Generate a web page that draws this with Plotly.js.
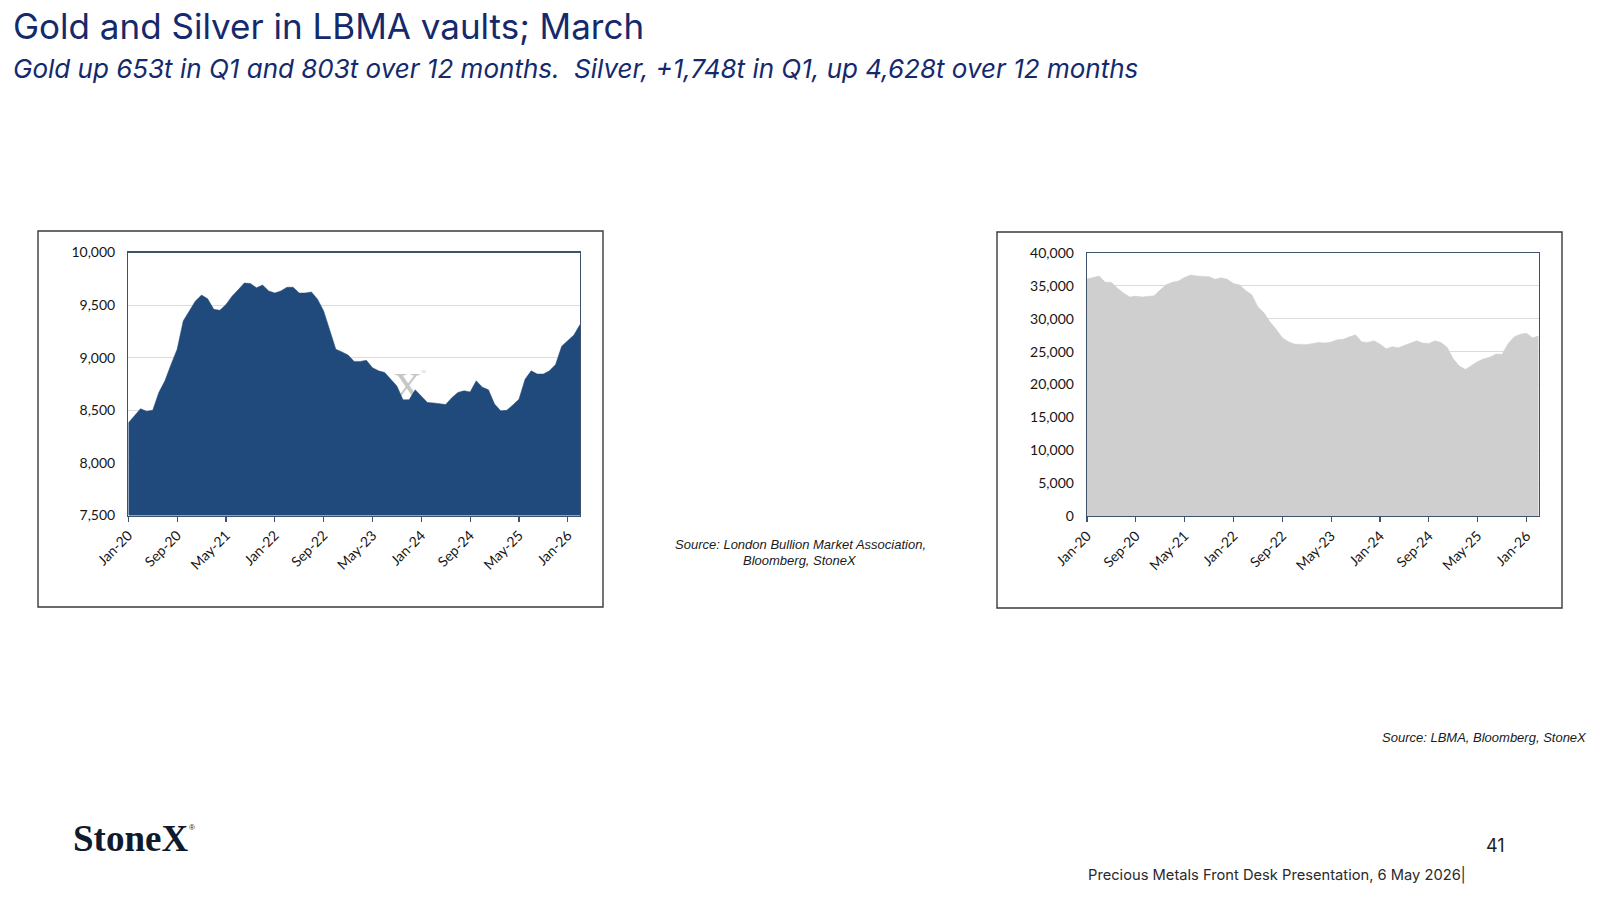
<!DOCTYPE html>
<html>
<head>
<meta charset="utf-8">
<script src="https://cdn.plot.ly/plotly-3.0.1.min.js"></script>
<style>
  html, body { margin: 0; padding: 0; background: #ffffff; }
  #chart { width: 1600px; height: 900px; }
</style>
</head>
<body>
<div id="chart"></div>
<script>
// ---- Data ----
const months = [
  'Jan-20','Feb-20','Mar-20','Apr-20','May-20','Jun-20','Jul-20','Aug-20','Sep-20','Oct-20','Nov-20','Dec-20',
  'Jan-21','Feb-21','Mar-21','Apr-21','May-21','Jun-21','Jul-21','Aug-21','Sep-21','Oct-21','Nov-21','Dec-21',
  'Jan-22','Feb-22','Mar-22','Apr-22','May-22','Jun-22','Jul-22','Aug-22','Sep-22','Oct-22','Nov-22','Dec-22',
  'Jan-23','Feb-23','Mar-23','Apr-23','May-23','Jun-23','Jul-23','Aug-23','Sep-23','Oct-23','Nov-23','Dec-23',
  'Jan-24','Feb-24','Mar-24','Apr-24','May-24','Jun-24','Jul-24','Aug-24','Sep-24','Oct-24','Nov-24','Dec-24',
  'Jan-25','Feb-25','Mar-25','Apr-25','May-25','Jun-25','Jul-25','Aug-25','Sep-25','Oct-25','Nov-25','Dec-25',
  'Jan-26','Feb-26','Mar-26'
];

const goldVault = [
  8380, 8450, 8515, 8490, 8500, 8670, 8780, 8935, 9080, 9350,
  9450, 9540, 9595, 9560, 9460, 9450, 9505, 9585, 9645, 9710,
  9705, 9665, 9690, 9635, 9615, 9635, 9670, 9670, 9615, 9615,
  9625, 9555, 9445, 9270, 9080, 9055, 9025, 8965, 8965, 8975,
  8905, 8875, 8860, 8795, 8730, 8600, 8600, 8695, 8635, 8575,
  8570, 8565, 8555, 8620, 8670, 8685, 8675, 8780, 8720, 8695,
  8560, 8495, 8500, 8550, 8605, 8795, 8875, 8845, 8845, 8875,
  8935, 9110, 9160, 9215, 9315
];

const silverVault = [
  36050, 36300, 36500, 35550, 35550, 34650, 33900, 33300, 33450, 33300,
  33450, 33500, 34400, 35200, 35550, 35750, 36300, 36650, 36500, 36500,
  36400, 36000, 36250, 36000, 35350, 35150, 34300, 33650, 31800, 30900,
  29500, 28400, 27100, 26500, 26150, 26100, 26100, 26250, 26400, 26300,
  26450, 26800, 26900, 27250, 27550, 26500, 26400, 26650, 26150, 25450,
  25750, 25600, 25950, 26200, 26650, 26300, 26250, 26650, 26400, 25650,
  23900, 22800, 22300, 22900, 23500, 23900, 24150, 24650, 24600, 26250,
  27250, 27650, 27800, 27100, 27400
];

const xTickLabels = ['Jan-20','Sep-20','May-21','Jan-22','Sep-22','May-23','Jan-24','Sep-24','May-25','Jan-26'];

const titleText = 'Gold and Silver in LBMA vaults; March';
const subtitleText = 'Gold up 653t in Q1 and 803t over 12 months.\u00a0 Silver, +1,748t in Q1, up 4,628t over 12 months';
const sourceLeft1 = 'Source: London Bullion Market Association,';
const sourceLeft2 = 'Bloomberg, StoneX';
const sourceRight = 'Source: LBMA, Bloomberg, StoneX';
const footerText = 'Precious Metals Front Desk Presentation, 6 May 2026|';
const pageNumber = '41';
const logoText = 'StoneX';

// ---- Styling ----
const W = 1600, H = 900;
const px = v => v / W;
const py = v => 1 - v / H;

const goldFill = '#214a7c';
const silverFill = '#d0cfd0';
const axisLine = '#3e536b';
const gridCol = '#dcdcdc';
const chartFont = { family: 'Lato, "Open Sans", sans-serif', size: 14, color: '#151515' };
const navy = '#142a6c';
const srcFont = { family: '"Liberation Sans", Arial, sans-serif', size: 13, color: '#1a1a1a' };

const traces = [
  {
    type: 'scatter', mode: 'lines', x: months, y: goldVault,
    fill: 'tozeroy', fillcolor: goldFill,
    line: { color: goldFill, width: 0.5 },
    xaxis: 'x', yaxis: 'y', hoverinfo: 'skip'
  },
  {
    type: 'scatter', mode: 'lines', x: months, y: silverVault,
    fill: 'tozeroy', fillcolor: silverFill,
    line: { color: silverFill, width: 0.5 },
    xaxis: 'x2', yaxis: 'y2', hoverinfo: 'skip'
  }
];

function xAxis(domain, anchor) {
  return {
    domain: domain, anchor: anchor, type: 'category',
    range: [0, months.length - 1],
    tickmode: 'array', tickvals: xTickLabels, ticktext: xTickLabels,
    tickangle: -45, ticks: 'outside', ticklen: 5, tickcolor: axisLine, tickwidth: 1.2,
    showline: true, linecolor: axisLine, linewidth: 1.3, mirror: true,
    showgrid: false, zeroline: false, tickfont: chartFont, fixedrange: true
  };
}
function yAxis(domain, anchor, range, dtick) {
  return {
    domain: domain, anchor: anchor, range: range, dtick: dtick, tick0: range[0],
    tickformat: ',d', ticks: '', ticklabelstandoff: 9,
    showline: true, linecolor: axisLine, linewidth: 1.3, mirror: true,
    showgrid: true, gridcolor: gridCol, gridwidth: 1, zeroline: false,
    tickfont: chartFont, fixedrange: true
  };
}

function note(text, x, y, xanchor, font) {
  return { text: text, xref: 'paper', yref: 'paper', x: px(x), y: py(y), xanchor: xanchor, yanchor: 'middle',
    showarrow: false, font: font };
}

const annotations = [
  note(titleText, 11, 26, 'left', { family: 'Inter, "Noto Sans", sans-serif', size: 35, color: navy }),
  note('<i>' + subtitleText + '</i>', 11, 68, 'left', { family: 'Inter, "Noto Sans", sans-serif', size: 26, color: navy }),
  note('<i>' + sourceLeft1 + '</i>', 800, 544, 'center', srcFont),
  note('<i>' + sourceLeft2 + '</i>', 800, 560, 'center', srcFont),
  note('<i>' + sourceRight + '</i>', 1589, 737, 'right', srcFont),
  note(pageNumber, 1495, 845, 'center', { family: 'Inter, "Noto Sans", sans-serif', size: 18, color: '#222222' }),
  note(footerText, 1468, 875, 'right', { family: 'Inter, "Noto Sans", sans-serif', size: 14.7, color: '#2a2a2a' }),
  note('<b>' + logoText + '</b>', 71, 838, 'left', { family: '"Liberation Serif", "DejaVu Serif", serif', size: 37, color: '#101a2c' }),
  note('®', 192, 827, 'center', { family: '"Liberation Sans", sans-serif', size: 8, color: '#101a2c' })
];

const shapes = [
  { type: 'rect', xref: 'paper', yref: 'paper', x0: px(38), x1: px(603), y0: py(231), y1: py(607),
    line: { color: '#3a3a3a', width: 1.4 }, fillcolor: 'rgba(0,0,0,0)' },
  { type: 'rect', xref: 'paper', yref: 'paper', x0: px(997), x1: px(1562), y0: py(232), y1: py(608),
    line: { color: '#3a3a3a', width: 1.4 }, fillcolor: 'rgba(0,0,0,0)' }
];

const wmSvg = '<svg xmlns="http://www.w3.org/2000/svg" width="48" height="44">' +
  '<text x="2" y="38" font-family="Liberation Serif, serif" font-size="40" fill="#c6c6c6">X</text>' +
  '<text x="30" y="12" font-family="Liberation Serif, serif" font-size="7" fill="#c6c6c6">®</text></svg>';

const layout = {
  width: W, height: H,
  margin: { l: 0, r: 0, t: 0, b: 0, pad: 0 },
  paper_bgcolor: '#ffffff', plot_bgcolor: 'rgba(0,0,0,0)',
  showlegend: false,
  xaxis: xAxis([px(128.3), px(580)], 'y'),
  yaxis: yAxis([py(515.5), py(252.5)], 'x', [7500, 10000], 500),
  xaxis2: xAxis([px(1087), px(1538.7)], 'y2'),
  yaxis2: yAxis([py(516), py(253)], 'x2', [0, 40000], 5000),
  annotations: annotations,
  shapes: shapes,
  images: [{
    source: 'data:image/svg+xml;charset=utf-8,' + encodeURIComponent(wmSvg),
    xref: 'paper', yref: 'paper', x: px(391), y: py(362), sizex: px(48), sizey: 44 / H,
    xanchor: 'left', yanchor: 'top', sizing: 'stretch', layer: 'below'
  }]
};

Plotly.newPlot('chart', traces, layout, { staticPlot: true, displayModeBar: false });
</script>
</body>
</html>
